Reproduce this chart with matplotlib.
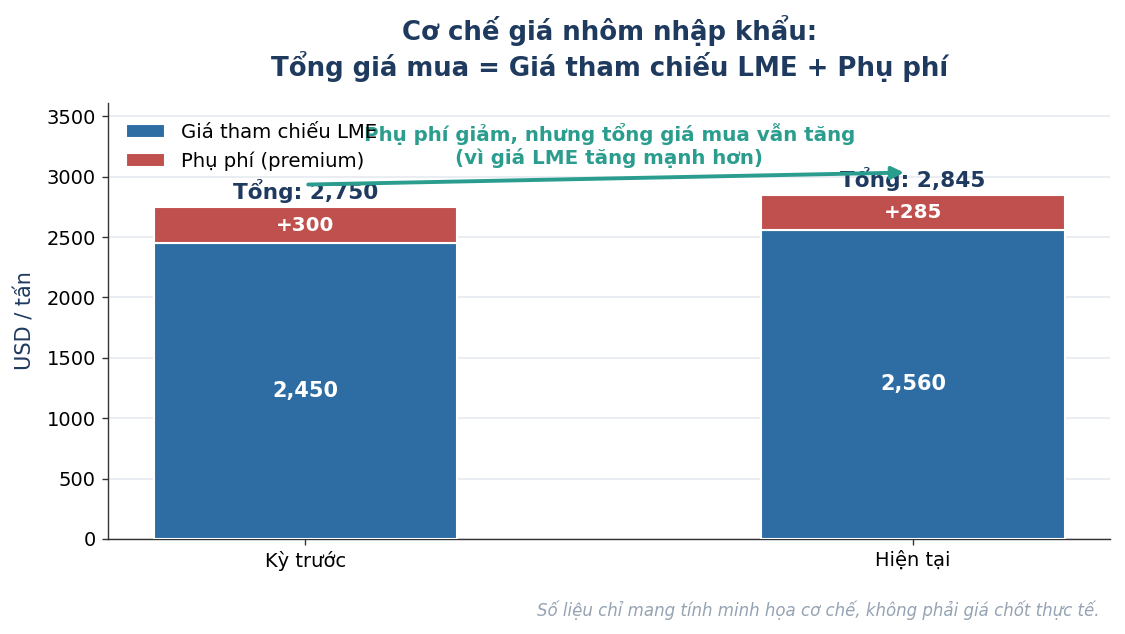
import matplotlib
matplotlib.use("Agg")
import matplotlib.pyplot as plt
import numpy as np

categories = ["Kỳ trước", "Hiện tại"]
lme = [2450, 2560]
premium = [300, 285]
totals = [a + b for a, b in zip(lme, premium)]

BLUE = "#2e6da4"
RED = "#c0504d"
NAVY = "#1f3a5f"
TEAL = "#2a9d8f"

plt.rcParams['font.family'] = ['DejaVu Sans']
fig, ax = plt.subplots(figsize=(11.25, 6.34), dpi=100)
fig.subplots_adjust(left=0.096, right=0.987, top=0.838, bottom=0.15)

x = np.arange(len(categories))
w = 0.5
ax.bar(x, lme, width=w, color=BLUE, edgecolor="white", linewidth=1.5,
       label="Giá tham chiếu LME", zorder=3)
ax.bar(x, premium, width=w, bottom=lme, color=RED, edgecolor="white",
       linewidth=1.5, label="Phụ phí (premium)", zorder=3)

for i in range(len(categories)):
    ax.text(x[i], lme[i] / 2, f"{lme[i]:,}", ha="center", va="center",
            color="white", fontsize=15, fontweight="bold", zorder=4)
    ax.text(x[i], lme[i] + premium[i] / 2, f"+{premium[i]}", ha="center",
            va="center", color="white", fontsize=14.3, fontweight="bold", zorder=4)
    ax.text(x[i], totals[i] + 35, f"Tổng: {totals[i]:,}", ha="center",
            va="bottom", color=NAVY, fontsize=15.6, fontweight="bold", zorder=4)

ax.set_ylim(0, max(totals) * 1.27)
ax.set_xticks(x)
ax.set_xticklabels(categories, fontsize=14)
ax.tick_params(axis="y", labelsize=14)
ax.tick_params(axis="both", length=4.4, width=1.0, pad=4.4, color="#333333")
ax.set_ylabel("USD / tấn", fontsize=15, color=NAVY, labelpad=8)
ax.yaxis.grid(True, color="#e6eaf0", linewidth=1.2, zorder=0)
ax.set_axisbelow(True)
for s in ["top", "right"]:
    ax.spines[s].set_visible(False)
for s in ["left", "bottom"]:
    ax.spines[s].set_color("#333333")
    ax.spines[s].set_linewidth(1.0)

ax.annotate("", xy=(0.99, 3035), xytext=(0, 2935),
            arrowprops=dict(arrowstyle="-|>", color=TEAL, lw=2.8,
                            mutation_scale=18), zorder=5)
ax.text(0.5, 3260, "Phụ phí giảm, nhưng tổng giá mua vẫn tăng\n(vì giá LME tăng mạnh hơn)",
        ha="center", va="center", color=TEAL, fontsize=14.3, fontweight="bold",
        linespacing=1.2, zorder=5)

ax.legend(loc="upper left", frameon=False, fontsize=14.2, handlelength=2.0,
          handleheight=0.7, bbox_to_anchor=(0.0, 0.995), labelspacing=0.5)

ax.set_title("Cơ chế giá nhôm nhập khẩu:\nTổng giá mua = Giá tham chiếu LME + Phụ phí",
             fontsize=18.7, fontweight="bold", color=NAVY, pad=19, linespacing=1.2)
fig.text(0.977, 0.038, "Số liệu chỉ mang tính minh họa cơ chế, không phải giá chốt thực tế.",
         ha="right", va="center", fontsize=12, style="italic", color="#95a3b3")

fig.savefig("out.png", dpi=100)
